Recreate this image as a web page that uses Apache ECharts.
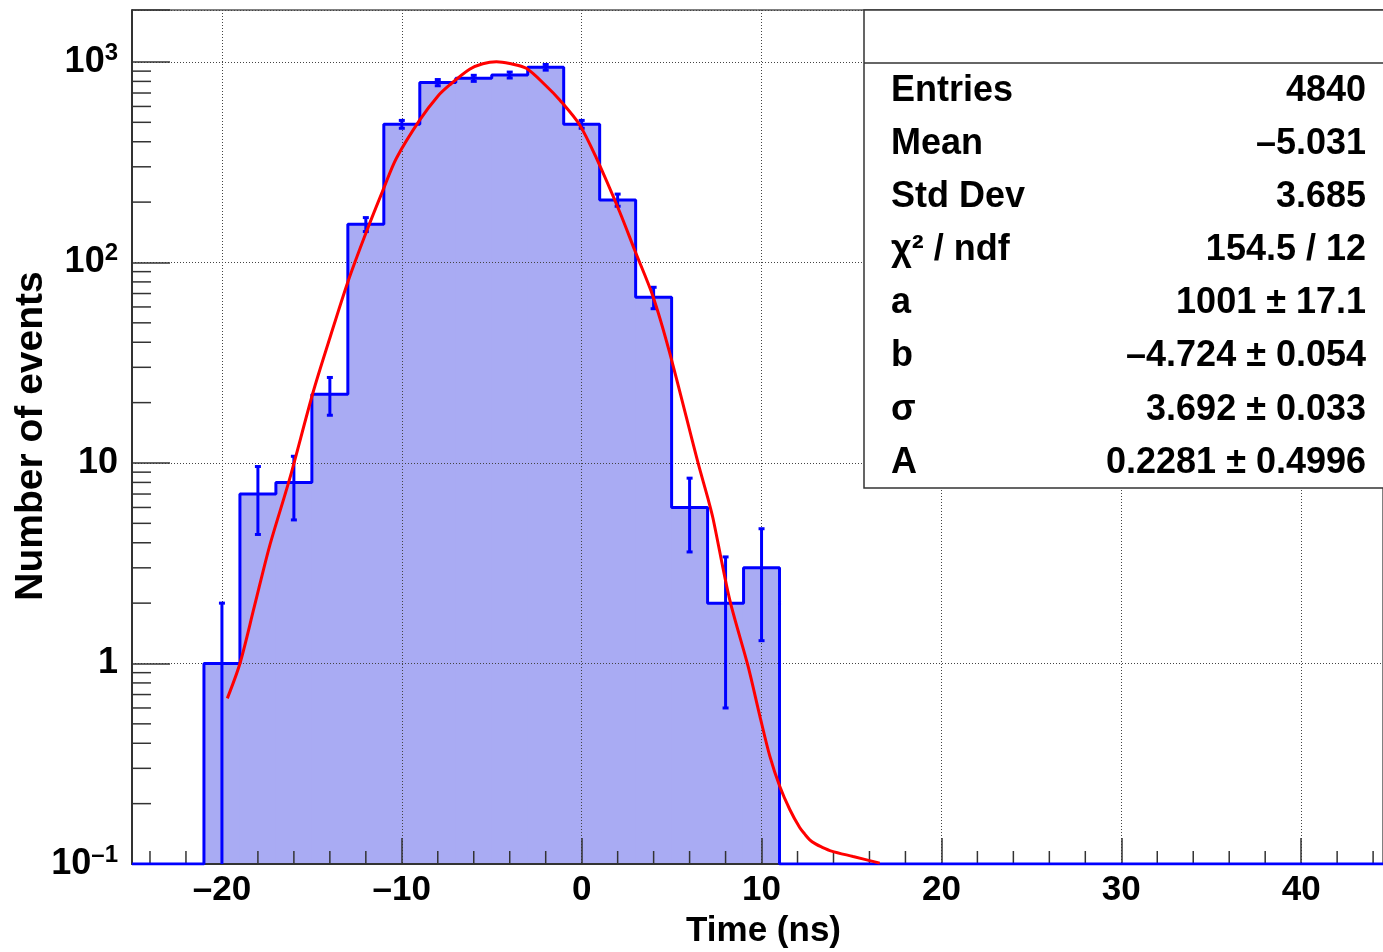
<!DOCTYPE html>
<html>
<head>
<meta charset="utf-8">
<script src="https://cdn.jsdelivr.net/npm/echarts@6/dist/echarts.min.js"></script>
<style>
html, body { margin: 0; padding: 0; background: #fff; }
#main { width: 1383px; height: 952px; }
</style>
</head>
<body>
<div id="main"></div>
<script>
// histogram: low edge of each bin (ns), bin width, counts and error bars
var binLow = [-21, -19, -17, -15, -13, -11, -9, -7, -5, -3, -1, 1, 3, 5, 7, 9];
var binWidth = 2;
var counts = [1, 7, 8, 22, 155, 489, 789, 829, 861, 941, 489, 205, 67, 6, 2, 3];
var errors = [1.0, 2.6, 2.8, 4.7, 12.4, 22.1, 28.1, 28.8, 29.3, 30.7, 22.1, 14.3, 8.2, 2.4, 1.4, 1.7];

// red fit curve
var fitX = [-19.7, -19.0, -18.2, -17.35, -16.24, -14.94, -14.0, -13.0, -12.0, -11.0, -10.3, -9.0, -8.0, -7.34,
  -6.23, -5.5, -4.74, -4.0, -3.08, -2.0, -1.22, -0.11, 0.82, 2.11, 2.95, 3.97, 4.89, 6.47, 7.03, 7.30, 8.23,
  9.25, 9.90, 10.46, 11.01, 11.57, 12.12, 12.4, 12.68, 13.0, 13.3, 13.89, 15.09, 16.57];
var fitY = [0.67, 1.0, 1.92, 3.85, 8.3, 22.4, 42, 80, 140, 235, 331, 514, 675, 768,
  920, 980, 1003, 982, 930, 763, 646, 485, 331, 179, 115, 67.5, 35.5, 10, 6.6, 5.3, 2.08,
  0.97, 0.55, 0.345, 0.244, 0.187, 0.152, 0.141, 0.132, 0.126, 0.122, 0.116, 0.109, 0.101];

// axes
var xMin = -25, xMax = 44.55;
var yMin = 0.1, yMax = 1816;
var xTicks = [-20, -10, 0, 10, 20, 30, 40];
var xMinorTicks = [-24, -22, -18, -16, -14, -12, -8, -6, -4, -2, 2, 4, 6, 8, 12, 14, 16, 18,
  22, 24, 26, 28, 32, 34, 36, 38, 42, 44];
var yMinorTicks = [0.2, 0.3, 0.4, 0.5, 0.6, 0.7, 0.8, 0.9, 2, 3, 4, 5, 6, 7, 8, 9,
  20, 30, 40, 50, 60, 70, 80, 90, 200, 300, 400, 500, 600, 700, 800, 900];

// stats box
var statNames = ['Entries', 'Mean', 'Std Dev', 'χ² / ndf', 'a', 'b', 'σ', 'A'];
var statValues = ['4840', '–5.031', '3.685', '154.5 / 12', '1001 ± 17.1', '–4.724 ± 0.054',
  '3.692 ± 0.033', '0.2281 ± 0.4996'];

var FONT = '"Liberation Sans", Arial, Helvetica, sans-serif';
var BLUE = '#0000ff';
var FILL = '#a9abf3';

var binData = [];
for (var i = 0; i < binLow.length; i++) binData.push([binLow[i], counts[i], errors[i]]);

// outline of the histogram, zero bins lie on the frame bottom
var outline = [[xMin, yMin], [binLow[0], yMin]];
for (var i = 0; i < binLow.length; i++) {
  outline.push([binLow[i], counts[i]]);
  outline.push([binLow[i] + binWidth, counts[i]]);
}
outline.push([binLow[binLow.length - 1] + binWidth, yMin]);
outline.push([xMax, yMin]);

var fitData = fitX.map(function (x, i) { return [x, fitY[i]]; });

var myChart = echarts.init(document.getElementById('main'));

function yLabel(v) {
  var l = Math.log10(v), e = Math.round(l);
  if (Math.abs(l - e) > 1e-6) return '';
  if (e === 0) return '1';
  if (e === 1) return '10';
  return '{b|10}{s|' + (e < 0 ? '–' + (-e) : e) + '}';
}

var statsGraphics = [
  { type: 'rect', z: 100, shape: { x: 864, y: 10, width: 540, height: 478 },
    style: { fill: '#fff', stroke: '#333', lineWidth: 1.5 } },
  { type: 'line', z: 101, shape: { x1: 864, y1: 63, x2: 1383, y2: 63 },
    style: { stroke: '#333', lineWidth: 1.5 } }
];
statNames.forEach(function (n, i) {
  var y = 91 + i * 53.1;
  statsGraphics.push({ type: 'text', z: 102, x: 891, y: y,
    style: { text: n, font: 'bold 36px ' + FONT, fill: '#000', align: 'left', verticalAlign: 'middle' } });
  statsGraphics.push({ type: 'text', z: 102, x: 1366, y: y,
    style: { text: statValues[i], font: 'bold 36px ' + FONT, fill: '#000', align: 'right', verticalAlign: 'middle' } });
});

var option = {
  animation: false,
  backgroundColor: '#fff',
  grid: { left: 132, top: 10, right: 0, bottom: 88, show: true, borderColor: '#000', borderWidth: 1 },
  xAxis: {
    type: 'value', min: xMin, max: xMax, z: 3,
    axisLine: { show: true, onZero: false, lineStyle: { color: '#333', width: 2 } },
    axisTick: { show: true, inside: true, length: 26, customValues: xTicks, lineStyle: { color: '#333', width: 1.5 } },
    axisLabel: {
      customValues: xTicks, margin: 9, color: '#000', fontSize: 35, fontWeight: 'bold', fontFamily: FONT,
      formatter: function (v) { return String(v).replace('-', '–'); }
    },
    splitLine: { show: true, lineStyle: { color: '#444', type: [1, 2], width: 1 } }
  },
  yAxis: {
    type: 'log', logBase: 10, min: yMin, max: yMax, z: 3,
    axisLine: { show: true, onZero: false, lineStyle: { color: '#333', width: 2 } },
    axisTick: { show: true, inside: true, length: 38, lineStyle: { color: '#333', width: 1.5 } },
    axisLabel: {
      margin: 14, color: '#000', fontSize: 36, fontWeight: 'bold', fontFamily: FONT,
      formatter: yLabel,
      rich: {
        b: { fontSize: 36, fontWeight: 'bold', fontFamily: FONT, color: '#000' },
        s: { fontSize: 24, fontWeight: 'bold', fontFamily: FONT, color: '#000', verticalAlign: 'top', padding: [0, 0, 18, 0] }
      }
    },
    splitLine: { show: true, lineStyle: { color: '#444', type: [1, 2], width: 1 } }
  },
  series: [
    {
      // shaded bins
      type: 'custom', z: 2, data: binData, clip: true,
      renderItem: function (params, api) {
        var p0 = api.coord([api.value(0), yMin]);
        var p1 = api.coord([api.value(0) + binWidth, api.value(1)]);
        return { type: 'rect', shape: { x: p0[0] - 0.6, y: p1[1], width: p1[0] - p0[0] + 1.2, height: p0[1] - p1[1] },
          style: { fill: FILL } };
      }
    },
    {
      // minor ticks
      type: 'custom', z: 4, silent: true,
      data: xMinorTicks.map(function (v) { return [v, 1]; }).concat(yMinorTicks.map(function (v) { return [0, v]; })),
      renderItem: function (params, api) {
        var a, b;
        if (params.dataIndex < xMinorTicks.length) {
          a = api.coord([api.value(0), yMin]);
          b = [a[0], a[1] - 13];
        } else {
          a = api.coord([xMin, api.value(1)]);
          b = [a[0] + 19, a[1]];
        }
        return { type: 'line', shape: { x1: a[0], y1: a[1], x2: b[0], y2: b[1] },
          style: { stroke: '#333', lineWidth: 1.5 } };
      }
    },
    {
      type: 'line', z: 5, data: outline, symbol: 'none', clip: true,
      lineStyle: { color: BLUE, width: 3 }
    },
    {
      // error bars
      type: 'custom', z: 6, data: binData,
      renderItem: function (params, api) {
        var xc = api.value(0) + binWidth / 2, c = api.value(1), e = api.value(2);
        var top = api.coord([xc, c + e]);
        var bot = api.coord([xc, Math.max(c - e, yMin)]);
        var kids = [
          { type: 'line', shape: { x1: top[0], y1: top[1], x2: bot[0], y2: bot[1] }, style: { stroke: BLUE, lineWidth: 3 } },
          { type: 'line', shape: { x1: top[0] - 3, y1: top[1], x2: top[0] + 3, y2: top[1] }, style: { stroke: BLUE, lineWidth: 3 } }
        ];
        if (c - e > yMin) kids.push({ type: 'line', shape: { x1: bot[0] - 3, y1: bot[1], x2: bot[0] + 3, y2: bot[1] }, style: { stroke: BLUE, lineWidth: 3 } });
        return { type: 'group', children: kids };
      }
    },
    {
      type: 'line', z: 7, data: fitData, symbol: 'none', smooth: 0.3, clip: true,
      lineStyle: { color: '#ff0000', width: 3 }
    }
  ],
  graphic: statsGraphics.concat([
    { type: 'text', z: 50, x: 841, y: 931,
      style: { text: 'Time (ns)', font: 'bold 35px ' + FONT, fill: '#000', align: 'right', verticalAlign: 'middle' } },
    { type: 'text', z: 50, x: 31, y: 436, rotation: Math.PI / 2,
      style: { text: 'Number of events', font: 'bold 39px ' + FONT, fill: '#000', align: 'center', verticalAlign: 'middle' } }
  ])
};
myChart.setOption(option);
</script>
</body>
</html>
